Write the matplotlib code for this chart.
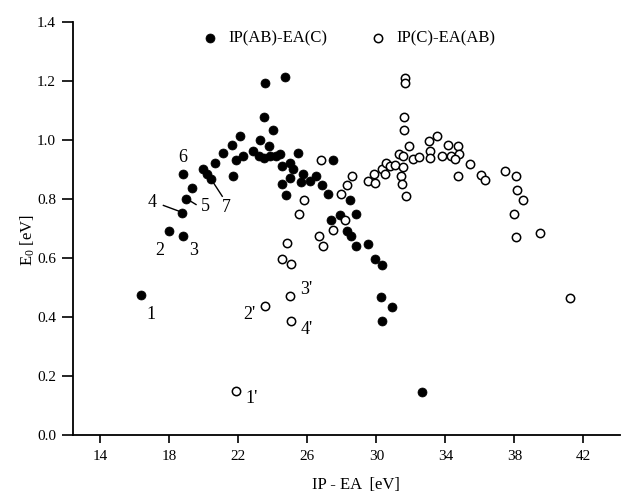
import matplotlib
matplotlib.use("Agg")
import matplotlib.pyplot as plt

plt.rcParams["font.family"] = ["Liberation Serif", "DejaVu Serif"]
plt.rcParams["mathtext.fontset"] = "custom"
plt.rcParams["mathtext.rm"] = "Liberation Serif"
plt.rcParams["mathtext.it"] = "Liberation Serif"

# IP(AB)-EA(C), filled circles
filled_x = [16.35, 17.99, 18.82, 18.76, 18.99, 19.34, 18.82, 19.94, 20.17, 20.42,
            20.67, 21.13, 21.63, 22.08, 21.67, 21.87, 22.30, 22.85, 23.27, 23.54,
            24.72, 23.50, 24.02, 23.79, 23.21, 23.83, 24.41, 24.56, 24.99, 25.18,
            25.47, 25.76, 24.99, 24.56, 24.75, 25.66, 26.15, 26.51, 26.84, 27.20,
            27.46, 28.48, 27.38, 27.88, 28.82, 28.30, 28.55, 28.84, 29.51, 29.93,
            30.30, 30.27, 30.92, 30.34, 32.64, 23.50, 24.20]
filled_y = [0.473, 0.690, 0.673, 0.753, 0.801, 0.836, 0.883, 0.900, 0.883, 0.868,
            0.921, 0.954, 0.983, 1.013, 0.879, 0.932, 0.946, 0.964, 0.998, 1.192,
            1.213, 1.079, 1.035, 0.979, 0.945, 0.945, 0.951, 0.911, 0.922, 0.900,
            0.954, 0.886, 0.872, 0.851, 0.812, 0.858, 0.860, 0.876, 0.847, 0.815,
            0.931, 0.797, 0.729, 0.744, 0.748, 0.693, 0.674, 0.639, 0.648, 0.597,
            0.577, 0.467, 0.434, 0.385, 0.147, 0.940, 0.945]

# IP(C)-EA(AB), open circles
open_x = [21.87, 23.54, 24.99, 25.05, 24.51, 25.03, 24.83, 26.65, 26.90, 27.50,
          25.51, 25.82, 26.82, 27.94, 28.28, 28.61, 28.17, 29.52, 29.85, 29.90,
          30.35, 30.48, 30.58, 30.81, 31.06, 31.30, 31.54, 31.54, 31.44, 31.50,
          31.70, 31.64, 31.64, 31.60, 31.60, 31.88, 32.10, 32.49, 33.05, 33.53,
          33.13, 33.09, 33.79, 34.17, 34.70, 34.34, 34.80, 34.53, 34.72, 35.45,
          36.07, 36.32, 37.48, 38.07, 38.16, 38.48, 38.00, 38.08, 39.50, 41.24]
open_y = [0.149, 0.436, 0.470, 0.385, 0.598, 0.579, 0.650, 0.673, 0.639, 0.694,
          0.749, 0.795, 0.931, 0.815, 0.846, 0.877, 0.730, 0.862, 0.883, 0.854,
          0.900, 0.883, 0.922, 0.913, 0.914, 0.951, 0.945, 0.908, 0.877, 0.849,
          0.811, 1.211, 1.192, 1.079, 1.033, 0.978, 0.936, 0.942, 0.996, 1.013,
          0.962, 0.940, 0.946, 0.983, 0.978, 0.947, 0.952, 0.934, 0.877, 0.919,
          0.882, 0.863, 0.894, 0.879, 0.831, 0.798, 0.749, 0.670, 0.686, 0.466]

# point labels and their positions
point_labels = ["1", "2", "3", "4", "5", "6", "7", "1'", "2'", "3'", "4'"]
label_x = [16.93, 17.47, 19.40, 16.99, 20.07, 18.76, 21.32, 22.77, 22.64, 25.95, 25.95]
label_y = [0.407, 0.626, 0.626, 0.787, 0.773, 0.940, 0.770, 0.125, 0.410, 0.492, 0.357]

# leader lines for labels 4, 5, 7
leaders = [((17.66, 0.778), (18.63, 0.757)),
           ((18.99, 0.801), (19.55, 0.781)),
           ((20.59, 0.852), (21.07, 0.809))]

fig = plt.figure(figsize=(6.26, 4.95), dpi=100)
ax = fig.add_axes([0.116, 0.121, 0.874, 0.835])

ax.scatter(filled_x, filled_y, s=42, c="black", edgecolors="black",
           linewidths=0.5, label="IP(AB)-EA(C)", zorder=3)
ax.scatter(open_x, open_y, s=36, facecolors="white", edgecolors="black",
           linewidths=1.1, label="IP(C)-EA(AB)", zorder=4)

for t, x, y in zip(point_labels, label_x, label_y):
    ax.text(x, y, t, fontsize=13, ha="center", va="center")
for (x0, y0), (x1, y1) in leaders:
    ax.plot([x0, x1], [y0, y1], color="black", lw=1.0)

ax.set_xlim(12.4, 44.1)
ax.set_ylim(0, 1.4)
ax.set_xticks([14, 18, 22, 26, 30, 34, 38, 42])
ax.set_yticks([0.0, 0.2, 0.4, 0.6, 0.8, 1.0, 1.2, 1.4])
ax.set_yticklabels(["0.0", "0.2", "0.4", "0.6", "0.8", "1.0", "1.2", "1.4"])
ax.tick_params(axis="both", labelsize=11, width=1.2)
ax.tick_params(axis="x", length=6, pad=5)
ax.tick_params(axis="y", length=8, pad=4)
for side in ["top", "right"]:
    ax.spines[side].set_visible(False)
for side in ["left", "bottom"]:
    ax.spines[side].set_linewidth(1.3)

ax.set_xlabel("IP - EA  [eV]", fontsize=12)
ax.xaxis.set_label_coords(0.518, -0.102)
ax.set_ylabel("E$_0$ [eV]", fontsize=12)
ax.yaxis.set_label_coords(-0.066, 0.472)

ax.legend(loc="center left", bbox_to_anchor=(0.2357, 0.96), ncol=2,
          frameon=False, fontsize=12, handlelength=1.0, handletextpad=0.6,
          columnspacing=2.55, borderpad=0, borderaxespad=0)

fig.savefig("out.png", dpi=100)
